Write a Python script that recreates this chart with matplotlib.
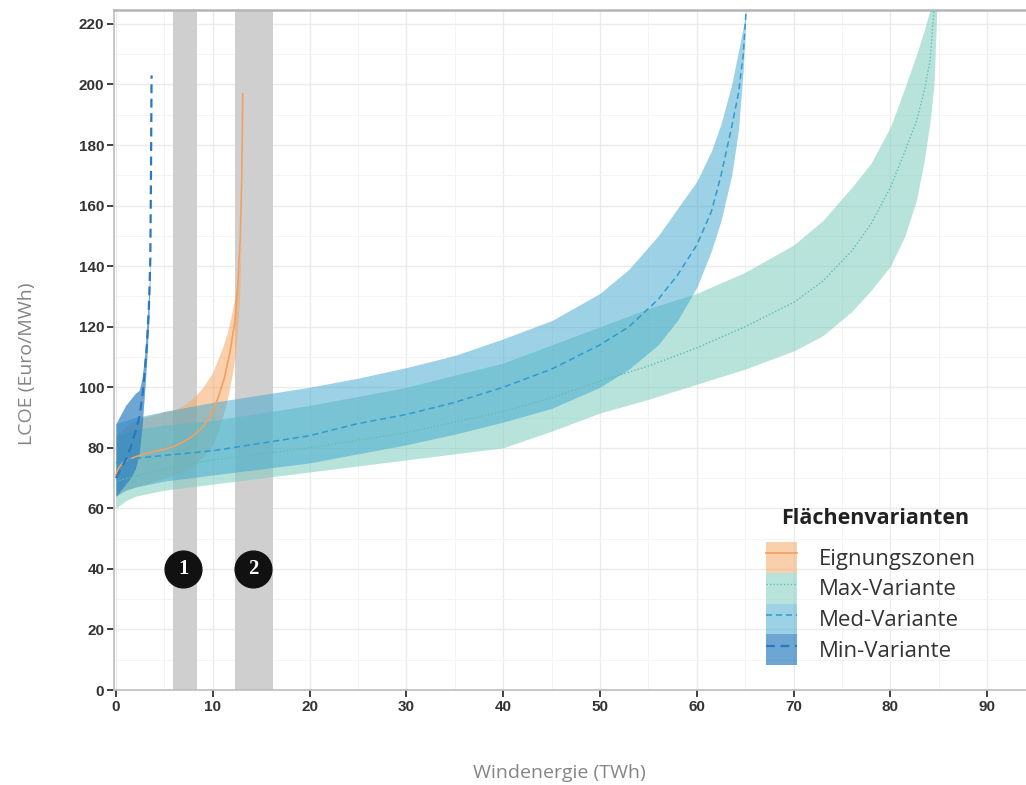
import matplotlib
matplotlib.use("Agg")
import matplotlib.pyplot as plt
from matplotlib.patches import Patch
from matplotlib.lines import Line2D

# ---------------- data ----------------
# Eignungszonen (orange)
eig_band_x = [0, 1, 2, 3, 4, 5, 6, 7, 8, 9, 10, 10.5, 11, 11.5, 12, 12.3, 12.6, 12.8, 12.95]
eig_upper = [84, 87, 89, 90, 91, 92, 92.5, 94, 96.5, 100, 105, 109, 113, 118, 125, 130, 136, 142, 150]
eig_lower = [64, 66, 67, 68, 69, 70, 71, 72, 74, 77, 81, 85, 90, 96, 104, 110, 120, 132, 150]
eig_line_x = [0, 0.3, 0.7, 1.2, 2, 3, 4, 5, 6, 7, 8, 9, 9.8, 10.5, 11.2, 11.8, 12.3, 12.6, 12.85, 13.0, 13.1]
eig_mid = [71, 73.5, 75, 76, 77, 78, 78.8, 79.5, 80.5, 82, 84, 87, 91, 96, 103, 112, 122, 135, 150, 170, 197]

# Max-Variante (teal)
max_band_x = [0, 1, 2, 5, 10, 15, 20, 25, 30, 35, 40, 45, 50, 55, 60, 65, 70, 73, 76, 78, 80,
              81.5, 82.7, 83.5, 84.1, 84.5, 84.8]
max_upper = [84, 85, 86, 87.5, 89, 91.5, 94, 97, 100, 104, 108, 114, 120, 126, 131, 138, 147, 155, 166,
             174, 186, 199, 210, 218, 225, 225, 225]
max_lower = [60, 62.5, 64, 66, 68, 70, 72, 74, 76, 78, 80, 85.5, 91.5, 96, 101, 106, 112, 117, 125,
             132, 140, 150, 162, 175, 188, 200, 225]
max_line_x = [0, 5, 10, 20, 30, 40, 45, 50, 55, 60, 65, 70, 73, 76, 78, 80, 81.5, 82.7, 83.5, 84.1, 84.5]
max_mid = [69, 73, 76, 80, 85, 92, 96.5, 102, 107, 113, 120, 128, 135, 145, 154, 166, 178, 188, 198, 208, 225]

# Med-Variante (blue)
med_band_x = [0, 1, 2, 5, 10, 15, 20, 25, 30, 35, 40, 45, 50, 53, 56, 58, 60, 61.5, 62.5, 63.6,
              64.3, 64.8, 65.1]
med_upper = [88, 89, 90, 92, 95, 97.5, 100, 103, 106.5, 110.5, 116, 122, 131, 139, 150, 159, 168,
             178, 187, 200, 211, 219, 225]
med_lower = [64, 66, 67, 69, 71, 73, 75, 78, 81, 84.5, 88.5, 93, 100, 106, 114, 122, 133, 145, 155,
             170, 185, 205, 225]
med_mid = [75, 76, 76.5, 77.5, 79, 81.5, 84, 88, 91, 95, 100, 106, 114, 120, 129, 137, 147, 158,
           170, 186, 197, 210, 225]

# Min-Variante (dark blue)
min_band_x = [0, 0.5, 1, 1.5, 2, 2.4, 2.7, 3.0, 3.2, 3.4, 3.55]
min_upper = [88, 91, 94, 96, 98, 99, 103, 112, 122, 132, 142]
min_lower = [64, 66, 68, 70, 73, 78, 87, 100, 110, 122, 138]
min_line_x = [0, 0.5, 1, 1.5, 2, 2.4, 2.7, 3.0, 3.2, 3.4, 3.55, 3.62, 3.68]
min_mid = [70, 73, 76, 80, 85, 90, 96, 106, 114, 126, 142, 170, 203]

# grey highlight bands and numbered markers
band_ranges = [(5.9, 8.4), (12.3, 16.25)]
marker_x = [6.95, 14.2]
marker_y = [40, 40]
marker_labels = ["1", "2"]

series_names = ["Eignungszonen", "Max-Variante", "Med-Variante", "Min-Variante"]
legend_title = "Flächenvarianten"
xticks = list(range(0, 100, 10))
yticks = list(range(0, 240, 20))

# ---------------- styles ----------------
fill_cols = ["#f7a866", "#7fcdbf", "#3ca6cf", "#2f80c0"]
fill_alpha = [0.55, 0.55, 0.5, 0.7]
line_cols = ["#f2a063", "#5fbfb0", "#2e9bd0", "#2a78c0"]
line_styles = ["-", (0, (1, 1.5)), (0, (4, 2.5)), (0, (4, 2.5))]
line_widths = [1.2, 1.0, 1.1, 1.6]

fig = plt.figure(figsize=(10.26, 7.85), dpi=100)
ax = fig.add_axes([114 / 1026, 1 - 690 / 785, (1026 - 114) / 1026, (690 - 10) / 785])

# grid
ax.set_xticks(xticks)
ax.set_yticks(yticks)
ax.set_xticks([x + 5 for x in xticks], minor=True)
ax.set_yticks([y + 10 for y in yticks], minor=True)
ax.grid(which="major", color="#ebebeb", lw=1.0, zorder=0)
ax.grid(which="minor", color="#f4f4f4", lw=0.7, zorder=0)
ax.set_axisbelow(True)

# grey bands
for a, b in band_ranges:
    ax.axvspan(a, b, color="#cfcfcf", lw=0, zorder=1)

# ribbons
bands = [
    (eig_band_x, eig_lower, eig_upper),
    (max_band_x, max_lower, max_upper),
    (med_band_x, med_lower, med_upper),
    (min_band_x, min_lower, min_upper),
]
for i, (bx, lo, up) in enumerate(bands):
    ax.fill_between(bx, lo, up, color=fill_cols[i], alpha=fill_alpha[i], lw=0, zorder=2 + i)

lines = [
    (eig_line_x, eig_mid),
    (max_line_x, max_mid),
    (med_band_x, med_mid),
    (min_line_x, min_mid),
]
for i, (lx, ly) in enumerate(lines):
    ax.plot(lx, ly, color=line_cols[i], ls=line_styles[i], lw=line_widths[i], zorder=7 + i)

# numbered markers
ax.scatter(marker_x, marker_y, s=700, color="#111111", zorder=12, clip_on=False)
for mx, my, lab in zip(marker_x, marker_y, marker_labels):
    ax.text(mx, my, lab, color="white", ha="center", va="center", fontsize=15,
            family="Liberation Serif", fontweight="bold", zorder=13)

ax.set_xlim(-0.2, 94.0)
ax.set_ylim(0, 224.6)

# spines & ticks
ax.spines["right"].set_visible(False)
ax.spines["top"].set_color("#b5b5b5")
ax.spines["top"].set_linewidth(1.8)
ax.spines["left"].set_color("#bdbdbd")
ax.spines["bottom"].set_color("#bdbdbd")
ax.spines["left"].set_linewidth(1.2)
ax.spines["bottom"].set_linewidth(1.2)
ax.tick_params(which="major", direction="out", length=5, width=1.3, color="#333333",
               labelsize=11, labelcolor="#333333", pad=2)
ax.tick_params(which="minor", length=0)
for lab in ax.get_xticklabels() + ax.get_yticklabels():
    lab.set_fontweight("bold")
    lab.set_family("Liberation Sans")

# axis labels
fig.text(559 / 1026, 1 - 773 / 785, "Windenergie (TWh)", ha="center", va="center",
         fontsize=14, color="#858585", family="Open Sans")
fig.text(27 / 1026, 1 - 364 / 785, "LCOE (Euro/MWh)", ha="center", va="center",
         rotation=90, fontsize=14, color="#858585", family="Open Sans")

# legend
handles = []
for i in range(4):
    p = Patch(facecolor=fill_cols[i], alpha=fill_alpha[i], edgecolor="none")
    l = Line2D([], [], color=line_cols[i], ls=line_styles[i], lw=line_widths[i])
    handles.append((p, l))
leg = ax.legend(handles, series_names, loc="lower left",
                bbox_to_anchor=(766 / 1026, 1 - 665 / 785), bbox_transform=fig.transFigure,
                frameon=False, prop={"family": "Open Sans", "size": 16},
                handlelength=1.4, handleheight=1.75, labelspacing=0.0, handletextpad=1.0,
                borderpad=0, borderaxespad=0)
for t in leg.get_texts():
    t.set_color("#333333")
leg.set_zorder(20)
fig.text(875 / 1026, 1 - 518 / 785, legend_title, ha="center", va="center",
         fontsize=15.5, fontweight="bold", family="Open Sans", color="#222222")

fig.savefig("out.png", dpi=100)
